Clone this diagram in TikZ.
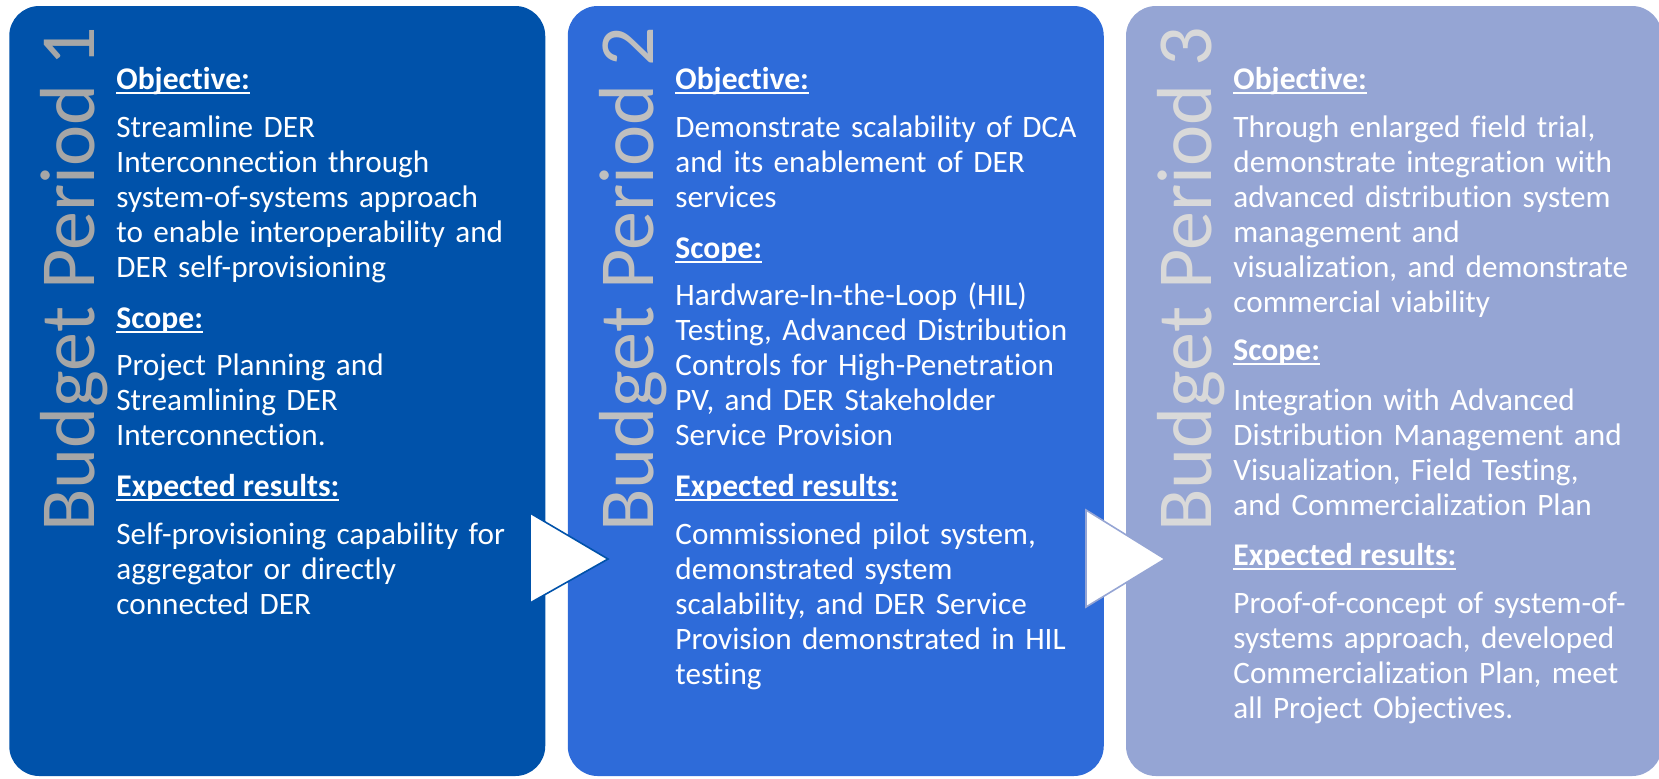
\documentclass[tikz,border=0pt]{standalone}
\usepackage{fontspec}
\setmainfont{Carlito}[Ligatures={NoCommon}]
\usepackage{xcolor}
\definecolor{period1}{RGB}{0,82,170}
\definecolor{period2}{RGB}{46,107,217}
\definecolor{period3}{RGB}{149,165,212}
\definecolor{title1}{RGB}{166,166,166}
\definecolor{title2}{RGB}{191,191,191}
\definecolor{title3}{RGB}{217,217,217}
\tikzstyle{phase}=[rectangle, rounded corners=15pt, minimum width=268pt, minimum height=385pt, inner sep=0pt]
\tikzset{bptitle/.style={rotate=90, anchor=base west, inner sep=0pt, font=\fontsize{39}{44}\selectfont}}
\tikzset{heading/.style={anchor=base west, inner sep=0pt, text=white, font=\fontsize{15.8}{17.5}\selectfont\bfseries}}
\tikzset{body/.style={anchor=base west, inner sep=0pt, text=white, text width=240pt, align=left, font=\fontsize{15.6}{17.5}\selectfont}}
\tikzstyle{chevron}=[fill=white, line width=0.8pt, line join=miter]
\newcommand{\hdg}[1]{\setbox0\hbox{#1}\rlap{\copy0}\rule[-2.5pt]{\wd0}{0.9pt}}

\begin{document}
\begin{tikzpicture}[x=0.5pt,y=-0.5pt]
  \useasboundingbox (0,0) rectangle (1659,778);
  %% Period boxes
  \draw (277.25,391) node[phase, fill=period1] (P1) {};
  \draw (835.75,391) node[phase, fill=period2] (P2) {};
  \draw (1394,391) node[phase, fill=period3] (P3) {};

  %% Arrows between periods
  \filldraw[chevron, draw=period1] (530,513) -- (608,559) -- (530,603) -- cycle;
  \filldraw[chevron, draw=period3] (1086,510) -- (1165,559) -- (1086,607) -- cycle;

  %% Side titles
  \draw (94,532) node[bptitle, text=title1] (T1) {Budget Period 1};
  \draw (653,532) node[bptitle, text=title2] (T2) {Budget Period 2};
  \draw (1211,532) node[bptitle, text=title3] (T3) {Budget Period 3};

  %% Budget Period 1
  \draw (116,89) node[heading] (O1) {\hdg{Objective:}};
  \draw (116,137) node[body] (OT1) {Streamline DER\\ Interconnection through\\ system-of-systems approach\\ to enable interoperability and\\ DER self-provisioning};
  \draw (116,328) node[heading] (S1) {\hdg{Scope:}};
  \draw (116,375) node[body] (ST1) {Project Planning and\\ Streamlining DER\\ Interconnection.};
  \draw (116,496) node[heading] (E1) {\hdg{Expected results:}};
  \draw (116,544) node[body] (ET1) {Self-provisioning capability for\\ aggregator or directly\\ connected DER};

  %% Budget Period 2
  \draw (675,89) node[heading] (O2) {\hdg{Objective:}};
  \draw (675,137) node[body] (OT2) {Demonstrate scalability of DCA\\ and its enablement of DER\\ services};
  \draw (675,258) node[heading] (S2) {\hdg{Scope:}};
  \draw (675,305) node[body] (ST2) {Hardware-In-the-Loop (HIL)\\ Testing, Advanced Distribution\\ Controls for High-Penetration\\ PV, and DER Stakeholder\\ Service Provision};
  \draw (675,496) node[heading] (E2) {\hdg{Expected results:}};
  \draw (675,544) node[body] (ET2) {Commissioned pilot system,\\ demonstrated system\\ scalability, and DER Service\\ Provision demonstrated in HIL\\ testing};

  %% Budget Period 3
  \draw (1233,89) node[heading] (O3) {\hdg{Objective:}};
  \draw (1233,137) node[body] (OT3) {Through enlarged field trial,\\ demonstrate integration with\\ advanced distribution system\\ management and\\ visualization, and demonstrate\\ commercial viability};
  \draw (1233,360) node[heading] (S3) {\hdg{Scope:}};
  \draw (1233,410) node[body] (ST3) {Integration with Advanced\\ Distribution Management and\\ Visualization, Field Testing,\\ and Commercialization Plan};
  \draw (1233,565) node[heading] (E3) {\hdg{Expected results:}};
  \draw (1233,613) node[body] (ET3) {Proof-of-concept of system-of-\\ systems approach, developed\\ Commercialization Plan, meet\\ all Project Objectives.};
\end{tikzpicture}
\end{document}
